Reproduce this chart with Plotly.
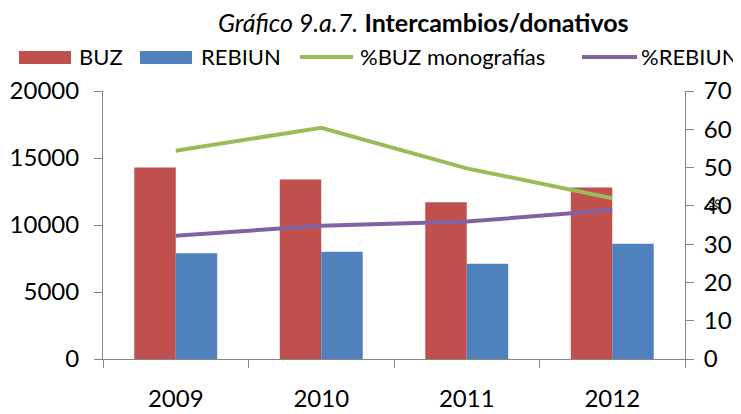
import plotly.graph_objects as go

years = ["2009", "2010", "2011", "2012"]
buz = [14300, 13400, 11700, 12800]
rebiun = [7900, 8000, 7100, 8600]
pct_buz_mono = [54.4, 60.4, 49.8, 42.0]
pct_rebiun = [32.2, 34.8, 35.9, 38.9]

series_names = ["BUZ", "REBIUN", "%BUZ monografías", "%REBIUN"]
colors = ["#C0504D", "#4F81BD", "#9BBB59", "#8064A2"]

FONT = "Lato"
AX = "#868686"

# plot area in reference pixels
PL, PR, PT, PB = 103, 685, 91, 359


def px(x):
    return (x - PL) / (PR - PL)


def py(y):
    return (PB - y) / (PB - PT)


fig = go.Figure()
fig.add_trace(go.Bar(x=years, y=buz, name=series_names[0], marker=dict(color=colors[0], line=dict(width=0))))
fig.add_trace(go.Bar(x=years, y=rebiun, name=series_names[1], marker=dict(color=colors[1], line=dict(width=0))))
fig.add_trace(go.Scatter(x=years, y=pct_buz_mono, name=series_names[2], mode="lines",
                         line=dict(color=colors[2], width=4), yaxis="y2"))
fig.add_trace(go.Scatter(x=years, y=pct_rebiun, name=series_names[3], mode="lines",
                         line=dict(color=colors[3], width=4), yaxis="y2"))

W, H = 733, 406
fig.update_layout(
    width=W, height=H,
    margin=dict(l=PL - 8, r=W - (PR - 8), t=PT - 8, b=H - (PB - 8), autoexpand=False),
    paper_bgcolor="white", plot_bgcolor="white",
    font=dict(family=FONT, size=24, color="#000000"),
    barmode="group", bargap=0.43, bargroupgap=0,
    showlegend=False,
    xaxis=dict(type="category", showline=True, linecolor=AX, linewidth=1,
               ticks="outside", tickson="boundaries", ticklen=8, tickcolor=AX,
               ticklabelstandoff=18,
               showgrid=False, zeroline=False, tickfont=dict(size=24)),
    yaxis=dict(range=[0, 20000], dtick=5000, tickformat="d", showline=True, linecolor=AX,
               ticks="outside", ticklen=8, tickcolor=AX, showgrid=False, zeroline=False,
               ticklabelstandoff=10, tickfont=dict(size=24)),
    yaxis2=dict(range=[0, 70], dtick=10, overlaying="y", side="right", showline=True,
                linecolor=AX, ticks="outside", ticklen=8, tickcolor=AX, showgrid=False,
                zeroline=False, ticklabelstandoff=5, tickfont=dict(size=24)),
)

# title
fig.add_annotation(text="<i>Gráfico 9.a.7.</i> <b>Intercambios/donativos</b>",
                   x=px(423), y=py(22), xref="paper", yref="paper", showarrow=False,
                   xanchor="center", yanchor="middle", font=dict(family=FONT, size=25))

# manual legend
leg_y = 57
sw = [(19, 71), (140, 192), (300, 353), (582, 637)]
tx = [77, 199, 358, 639]
for i in range(4):
    x0, x1 = sw[i]
    if i < 2:
        fig.add_shape(type="rect", xref="paper", yref="paper", x0=px(x0), x1=px(x1),
                      y0=py(64), y1=py(51), fillcolor=colors[i], line=dict(width=0))
    else:
        fig.add_shape(type="line", xref="paper", yref="paper", x0=px(x0), x1=px(x1),
                      y0=py(leg_y), y1=py(leg_y), line=dict(color=colors[i], width=4))
    fig.add_annotation(text=series_names[i], x=px(tx[i]), y=py(leg_y), xref="paper", yref="paper",
                       showarrow=False, xanchor="left", yanchor="middle",
                       font=dict(family=FONT, size=22))

fig.add_annotation(text="%", x=px(724), y=py(205), xref="paper", yref="paper",
                   showarrow=False, textangle=-90, font=dict(family=FONT, size=16))

fig.write_html("out.html")
